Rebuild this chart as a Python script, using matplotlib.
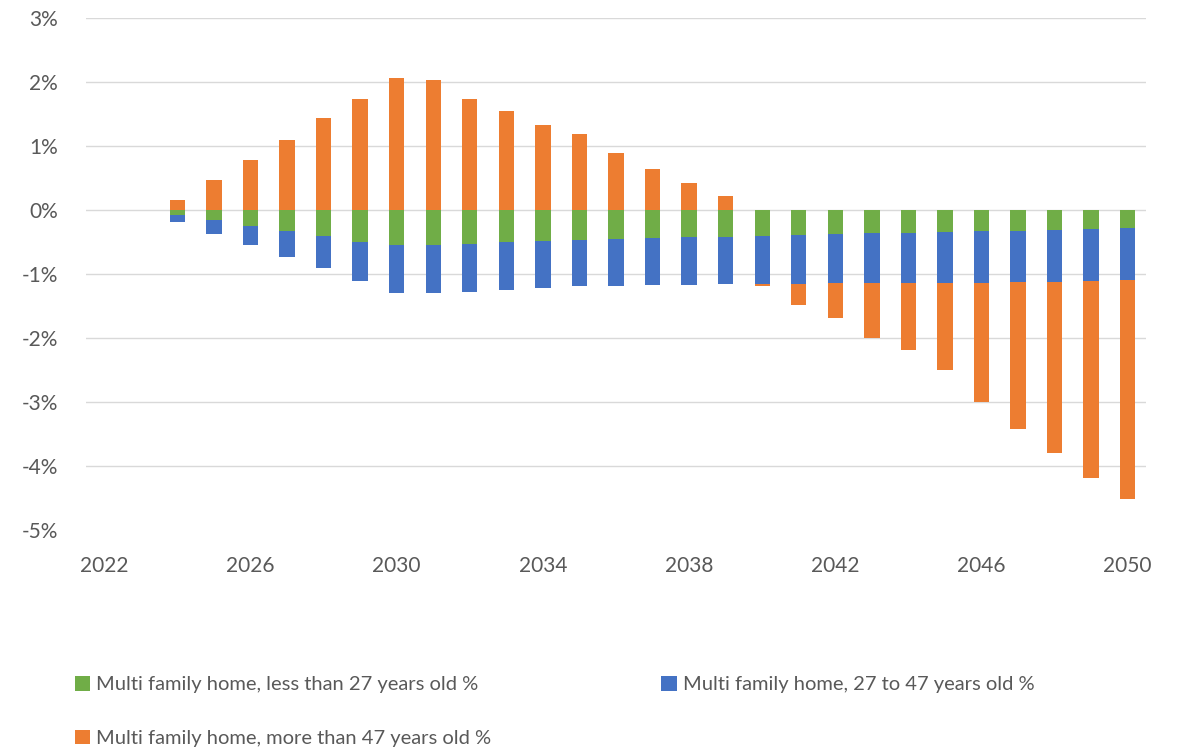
import numpy as np
import matplotlib
matplotlib.use("Agg")
import matplotlib.pyplot as plt
from matplotlib.ticker import FuncFormatter

plt.rcParams['font.family'] = ['Lato', 'DejaVu Sans']

years = list(range(2024, 2051))
young = [-0.08, -0.16, -0.24, -0.325, -0.40, -0.49, -0.55, -0.545, -0.52, -0.50,
         -0.485, -0.465, -0.455, -0.435, -0.425, -0.415, -0.40, -0.38, -0.37, -0.36,
         -0.355, -0.345, -0.33, -0.33, -0.31, -0.30, -0.285]
mid = [-0.10, -0.21, -0.30, -0.40, -0.51, -0.61, -0.74, -0.745, -0.75, -0.74,
       -0.735, -0.725, -0.725, -0.735, -0.735, -0.735, -0.75, -0.77, -0.765, -0.775,
       -0.78, -0.79, -0.805, -0.79, -0.81, -0.80, -0.805]
old = [0.164, 0.47, 0.78, 1.09, 1.44, 1.73, 2.07, 2.03, 1.74, 1.555,
       1.325, 1.185, 0.89, 0.64, 0.425, 0.227, -0.03, -0.33, -0.555, -0.855,
       -1.055, -1.365, -1.865, -2.29, -2.67, -3.08, -3.42]
labels = ["Multi family home, less than 27 years old %",
          "Multi family home, 27 to 47 years old %",
          "Multi family home, more than 47 years old %"]
colors = ["#70AD47", "#4472C4", "#ED7D31"]
xticks = [2022, 2026, 2030, 2034, 2038, 2042, 2046, 2050]
yticks = [-5, -4, -3, -2, -1, 0, 1, 2, 3]

fig = plt.figure(figsize=(11.79, 7.5), dpi=100)
ax = fig.add_axes([86/1179, (750-530.5)/750, 1060/1179, 512.5/750])

x = np.array(years, dtype=float)
pos_base = np.zeros(len(years))
neg_base = np.zeros(len(years))
handles = []
for vals, lab, col in zip([young, mid, old], labels, colors):
    v = np.array(vals)
    bottom = np.where(v >= 0, pos_base, neg_base)
    b = ax.bar(x, v, width=0.42, bottom=bottom, color=col, label=lab, zorder=3,
               edgecolor='none')
    handles.append(b)
    pos_base = pos_base + np.where(v >= 0, v, 0)
    neg_base = neg_base + np.where(v < 0, v, 0)

ax.set_xlim(2021.5, 2050.5)
ax.set_ylim(-5, 3)
ax.set_xticks(xticks)
ax.set_yticks(yticks)
ax.yaxis.set_major_formatter(FuncFormatter(lambda v, p: f"{int(round(v))}%"))
for yv in yticks[1:]:
    ax.axhline(yv, color="#D9D9D9", linewidth=1.0, zorder=1)
for s in ax.spines.values():
    s.set_visible(False)
ax.tick_params(axis='both', length=0, labelsize=15, labelcolor="#595959")
ax.tick_params(axis='y', pad=20)
ax.tick_params(axis='x', pad=18)

leg = fig.legend([handles[0], handles[2], handles[1]],
                 [labels[0], labels[2], labels[1]],
                 ncol=2, loc='upper left', bbox_to_anchor=(75/1179, 1 - 676/750),
                 frameon=False, fontsize=14.5, labelcolor="#595959",
                 handlelength=0.75, handleheight=0.75, handletextpad=0.3,
                 labelspacing=1.8, columnspacing=8.45, borderaxespad=0, borderpad=0)

fig.savefig("out.png", dpi=100, facecolor="white")
